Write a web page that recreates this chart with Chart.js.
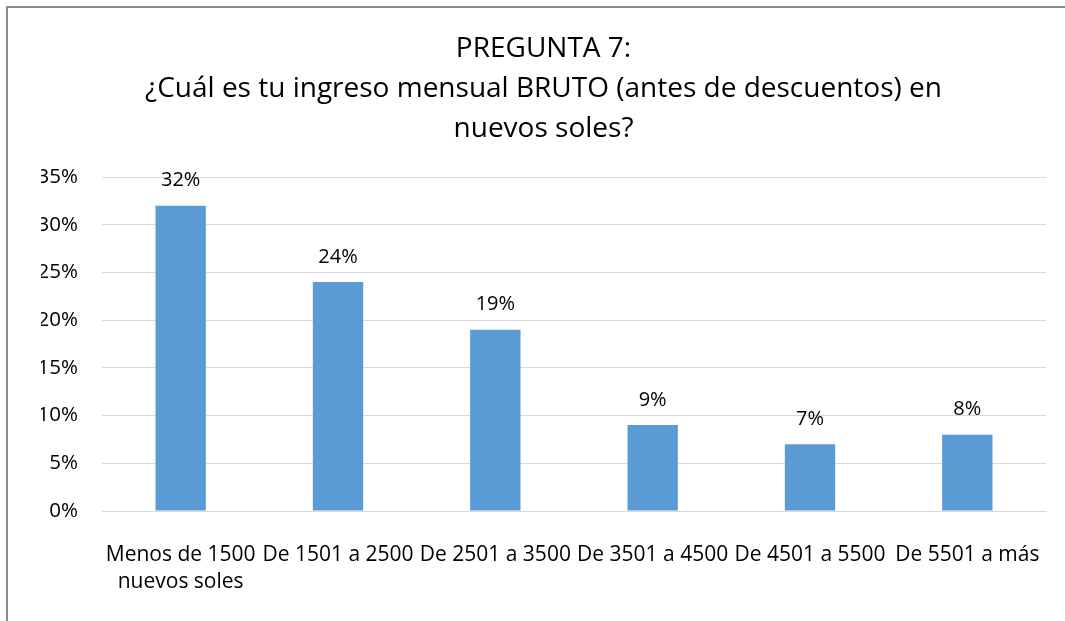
<!DOCTYPE html>
<html lang="es">
<head>
  <meta charset="UTF-8"/>
  <title>Pregunta 7</title>
  <script src="https://cdn.jsdelivr.net/npm/chart.js"></script>
  <style>
    html, body { margin: 0; background: #fff; overflow: hidden; }
    .edge { position: absolute; background: #8c8c8c; }
    #edgeTop { left: 6px; top: 6px; width: 1059px; height: 2px; }
    #edgeLeft { left: 6px; top: 6px; width: 2px; height: 615px; }
    #wrap { position: absolute; left: 0; top: 0; width: 1065px; height: 621px; }
  </style>
</head>
<body>
  <div class="edge" id="edgeTop"></div>
  <div class="edge" id="edgeLeft"></div>
  <div id="wrap"><canvas id="chart"></canvas></div>

  <script>
    // data
    const categories = [
      ['Menos de 1500', 'nuevos soles'],
      'De 1501 a 2500',
      'De 2501 a 3500',
      'De 3501 a 4500',
      'De 4501 a 5500',
      'De 5501 a más'
    ];
    const shares = [0.32, 0.24, 0.19, 0.09, 0.07, 0.08];
    const titleLines = [
      'PREGUNTA 7:',
      '¿Cuál es tu ingreso mensual BRUTO (antes de descuentos) en',
      'nuevos soles?'
    ];

    const FONT = '"Open Sans", "Noto Sans", sans-serif';

    // percent labels over the bars
    const barLabels = {
      id: 'barLabels',
      afterDatasetsDraw(chart) {
        const ctx = chart.ctx;
        const meta = chart.getDatasetMeta(0);
        ctx.save();
        ctx.font = '20px ' + FONT;
        ctx.fillStyle = '#000';
        ctx.textAlign = 'center';
        ctx.textBaseline = 'middle';
        meta.data.forEach((bar, i) => {
          ctx.fillText(Math.round(shares[i] * 100) + '%', bar.x, bar.y - 25);
        });
        ctx.restore();
      }
    };

    const ctx = document.getElementById('chart').getContext('2d');
    new Chart(ctx, {
      type: 'bar',
      data: {
        labels: categories,
        datasets: [{
          data: shares,
          backgroundColor: '#5B9BD5',
          categoryPercentage: 1,
          barPercentage: 0.32
        }]
      },
      options: {
        responsive: true,
        maintainAspectRatio: false,
        animation: false,
        layout: { padding: { left: 41, right: 19, top: 0, bottom: 0 } },
        plugins: {
          legend: { display: false },
          tooltip: { enabled: false },
          title: {
            display: true,
            text: titleLines,
            color: '#000',
            font: { family: FONT, size: 28, weight: 'normal', lineHeight: 40 / 28 },
            padding: { top: 29, bottom: 28 }
          }
        },
        scales: {
          x: {
            grid: { display: false },
            border: { display: true, color: '#d9d9d9' },
            ticks: {
              color: '#000',
              font: { family: FONT, size: 21, lineHeight: 1.3 },
              padding: 22,
              maxRotation: 0,
              autoSkip: false
            },
            afterFit(scale) { scale.height = 110; }
          },
          y: {
            min: 0,
            max: 0.35,
            grid: { color: '#d9d9d9', drawTicks: false },
            border: { display: false },
            ticks: {
              stepSize: 0.05,
              color: '#000',
              font: { family: FONT, size: 20.5 },
              padding: 24,
              callback: v => Math.round(v * 100) + '%'
            },
            afterFit(scale) { scale.width = 61; }
          }
        }
      },
      plugins: [barLabels]
    });
  </script>
</body>
</html>
